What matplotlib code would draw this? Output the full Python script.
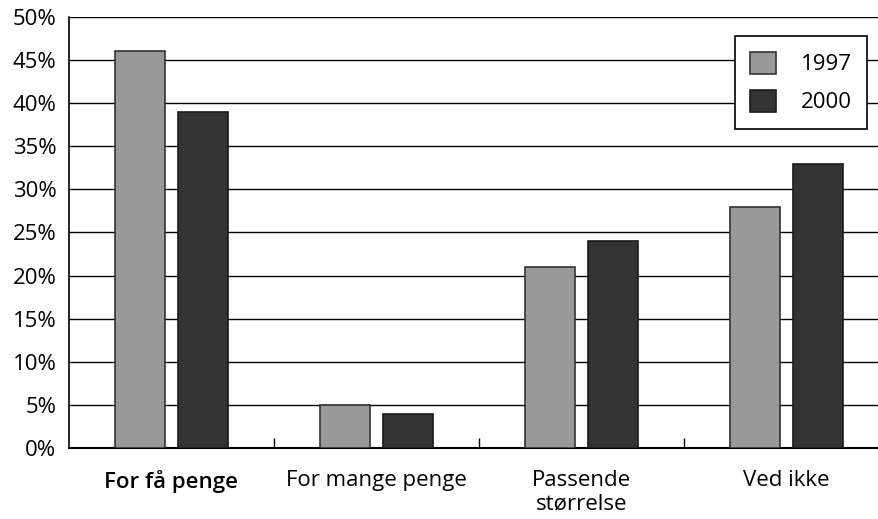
import matplotlib
matplotlib.use('Agg')
import matplotlib.pyplot as plt
import numpy as np

plt.rcParams['font.family'] = ['Open Sans', 'DejaVu Sans']

categories = ['For få penge', 'For mange penge', 'Passende\nstørrelse', 'Ved ikke']
series_names = ['1997', '2000']
values_1997 = [46, 5, 21, 28]
values_2000 = [39, 4, 24, 33]
y_ticks = [0, 5, 10, 15, 20, 25, 30, 35, 40, 45, 50]

fig = plt.figure(figsize=(8.79, 5.19), dpi=100)
ax = fig.add_axes([69 / 879, 71 / 519, 820 / 879, 431 / 519])

x = np.arange(len(categories)) + 0.5
w = 0.244
off = 0.152
ax.bar(x - off, values_1997, w, color='#999999', edgecolor='#333333', linewidth=1.2,
       label=series_names[0], zorder=3)
ax.bar(x + off, values_2000, w, color='#333333', edgecolor='#1a1a1a', linewidth=1.2,
       label=series_names[1], zorder=3)

ax.set_xlim(0, 4)
ax.set_ylim(0, 50)
ax.set_yticks(y_ticks)
ax.set_yticklabels([f'{v}%' for v in y_ticks], fontsize=16)
ax.tick_params(axis='y', length=0, pad=9)
for v in y_ticks[1:]:
    ax.axhline(v, color='black', linewidth=1.0, zorder=1)

ax.set_xticks(x)
ax.set_xticklabels(categories, fontsize=16, linespacing=1.15)
ax.get_xticklabels()[0].set_fontweight('semibold')
ax.tick_params(axis='x', length=0, pad=16)
ax.set_xticks([1, 2, 3], minor=True)
ax.tick_params(axis='x', which='minor', direction='in', length=7, width=1, color='black')

for s in ['top', 'right']:
    ax.spines[s].set_visible(False)
ax.spines['left'].set_linewidth(1.2)
ax.spines['bottom'].set_linewidth(1.5)

leg = ax.legend(loc='upper right', bbox_to_anchor=(867 / 879, 1 - 36 / 519), bbox_transform=fig.transFigure,
                borderaxespad=0, fontsize=16, frameon=True, fancybox=False, framealpha=1, edgecolor='black',
                handlelength=1.15, handleheight=1.15, borderpad=0.7, labelspacing=0.65, handletextpad=1.1)
leg.get_frame().set_linewidth(1.2)

fig.savefig('out.png', dpi=100)
